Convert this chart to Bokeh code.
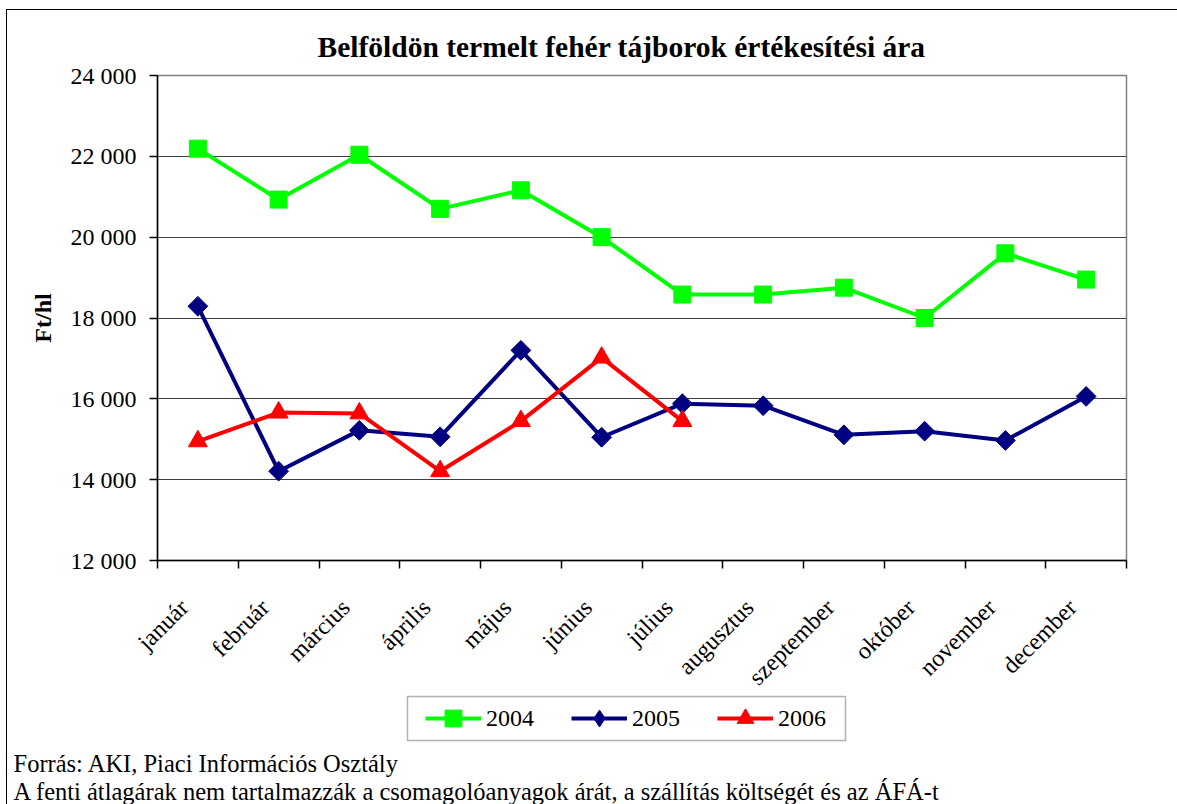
from math import pi
from bokeh.plotting import figure
from bokeh.layouts import column
from bokeh.models import (Range1d, LinearAxis, FixedTicker, Legend, LegendItem, Title,
                          Label, BoxAnnotation)
from bokeh.embed import file_html
from bokeh.resources import INLINE

# ---- data ----
months = ["január", "február", "március", "április", "május", "június",
          "július", "augusztus", "szeptember", "október", "november", "december"]
y2004 = [22190, 20930, 22040, 20700, 21160, 20000, 18580, 18580, 18750, 18000, 19600, 18950]
y2005 = [18290, 14210, 15220, 15060, 17200, 15050, 15880, 15830, 15110, 15200, 14970, 16060]
y2006 = [14950, 15660, 15640, 14210, 15450, 17020, 15450]
y_ticks = [12000, 14000, 16000, 18000, 20000, 22000, 24000]
y_tick_labels = ["12 000", "14 000", "16 000", "18 000", "20 000", "22 000", "24 000"]
series_names = ["2004", "2005", "2006"]
title_text = "Belföldön termelt fehér tájborok értékesítési ára"
y_label = "Ft/hl"
footer1 = "Forrás: AKI, Piaci Információs Osztály"
footer2 = "A fenti átlagárak nem tartalmazzák a csomagolóanyagok árát, a szállítás költségét  és az ÁFÁ-t"

FONT = "Liberation Serif"
GREEN, NAVY, RED = "#00FF00", "#000080", "#FF0000"
NAN = float("nan")

# ---------------- main chart ----------------
p = figure(width=1170, height=692, output_backend="svg", toolbar_location=None,
           x_range=Range1d(-0.5, 11.5), y_range=Range1d(12000, 24000),
           x_axis_type=None, min_border_left=150, min_border_right=51,
           min_border_top=65, min_border_bottom=142)
if "frame_align" in p.properties():
    p.frame_align = False
p.outline_line_color = "#808080"
p.outline_line_width = 1.5
p.background_fill_color = "white"
p.border_fill_color = "white"

p.title = Title(text=title_text, align="left", offset=160, standoff=26,
                text_font=FONT, text_font_size="29.5px", text_font_style="bold",
                text_color="black")

yt = FixedTicker(ticks=y_ticks)
ya = p.yaxis[0]
ya.ticker = yt
ya.major_label_overrides = {v: s for v, s in zip(y_ticks, y_tick_labels)}
ya.major_label_text_font = FONT
ya.major_label_text_font_size = "24px"
ya.major_label_text_color = "black"
ya.major_tick_out = 8
ya.major_tick_in = 0
ya.minor_tick_out = 0
ya.minor_tick_in = 0
ya.major_label_standoff = 13
ya.axis_line_color = "black"
ya.axis_line_width = 1.5
ya.major_tick_line_color = "black"
ya.major_tick_line_width = 1.5
ya.axis_label = y_label
ya.axis_label_text_font = FONT
ya.axis_label_text_font_size = "24px"
ya.axis_label_text_font_style = "bold"
ya.axis_label_text_color = "black"
ya.axis_label_standoff = 12

p.ygrid.ticker = yt
p.ygrid.grid_line_color = "#404040"
p.ygrid.grid_line_width = 1
p.xgrid.visible = False

n = len(months)
label_pos = [i - 0.17 for i in range(n)]   # rotated label anchor, slightly left of centre
xa = LinearAxis(ticker=FixedTicker(ticks=label_pos,
                                   minor_ticks=[i - 0.5 for i in range(n + 1)]),
                major_label_overrides={t: m for t, m in zip(label_pos, months)},
                major_label_orientation=pi / 4,
                major_label_text_font=FONT, major_label_text_font_size="24px",
                major_label_text_color="black", major_label_standoff=35,
                major_tick_out=0, major_tick_in=0, minor_tick_out=8, minor_tick_in=0,
                minor_tick_line_color="black", minor_tick_line_width=1.5,
                axis_line_color="black", axis_line_width=1.5)
p.add_layout(xa, "below")

x04 = list(range(len(y2004)))
x05 = list(range(len(y2005)))
x06 = list(range(len(y2006)))

p.line(x04, y2004, line_color=GREEN, line_width=4)
p.scatter(x04, y2004, marker="square", size=17, fill_color=GREEN, line_color=GREEN)
p.line(x05, y2005, line_color=NAVY, line_width=4)
p.scatter(x05, y2005, marker="square", angle=pi / 4, size=14, fill_color=NAVY, line_color=NAVY)
p.line(x06, y2006, line_color=RED, line_width=4)
p.scatter(x06, y2006, marker="triangle", size=19, fill_color=RED, line_color=RED)

# ---------------- legend + notes strip ----------------
q = figure(width=1170, height=116, output_backend="svg", toolbar_location=None,
           x_range=Range1d(0, 1170), y_range=Range1d(116, 0),
           x_axis_type=None, y_axis_type=None,
           min_border_left=0, min_border_right=0, min_border_top=0, min_border_bottom=0)
if "frame_align" in q.properties():
    q.frame_align = False
q.styles = {"margin-top": "-14px"}
q.outline_line_color = None
q.grid.visible = False
q.background_fill_alpha = 0
q.border_fill_alpha = 0

# legend keys (no visible data, only used to draw the legend swatches)
k04 = [q.line(x=[NAN], y=[NAN], line_color=GREEN, line_width=4),
       q.scatter(x=[NAN], y=[NAN], marker="square", fill_color=GREEN, line_color=GREEN)]
k05 = [q.line(x=[NAN], y=[NAN], line_color=NAVY, line_width=4),
       q.scatter(x=[NAN], y=[NAN], marker="diamond", fill_color=NAVY, line_color=NAVY)]
k06 = [q.line(x=[NAN], y=[NAN], line_color=RED, line_width=4),
       q.scatter(x=[NAN], y=[NAN], marker="triangle", fill_color=RED, line_color=RED)]

legend = Legend(items=[LegendItem(label=series_names[0], renderers=k04),
                       LegendItem(label=series_names[1], renderers=k05),
                       LegendItem(label=series_names[2], renderers=k06)],
                orientation="horizontal", location=(418, 65),
                glyph_width=56, glyph_height=42, label_standoff=5, spacing=37,
                padding=1, margin=0, border_line_color=None, background_fill_alpha=0,
                label_text_font=FONT, label_text_font_size="24px", label_text_color="black")
q.add_layout(legend, "center")
q.add_layout(BoxAnnotation(left=400, right=838, top=8, bottom=52,
                           fill_alpha=0, line_color="black", line_width=1.5))

q.add_layout(Label(x=6, y=75, text=footer1, text_align="left", text_baseline="middle",
                   text_font=FONT, text_font_size="24.5px", text_color="black"))
q.add_layout(Label(x=6, y=103, text=footer2, text_align="left", text_baseline="middle",
                   text_font=FONT, text_font_size="24.5px", text_color="black"))

layout = column(p, q, spacing=0,
                styles={"margin-left": "6px", "margin-top": "9px",
                        "border-left": "1px solid black", "border-top": "1px solid black"})

open("out.html", "w").write(file_html(layout, INLINE))
